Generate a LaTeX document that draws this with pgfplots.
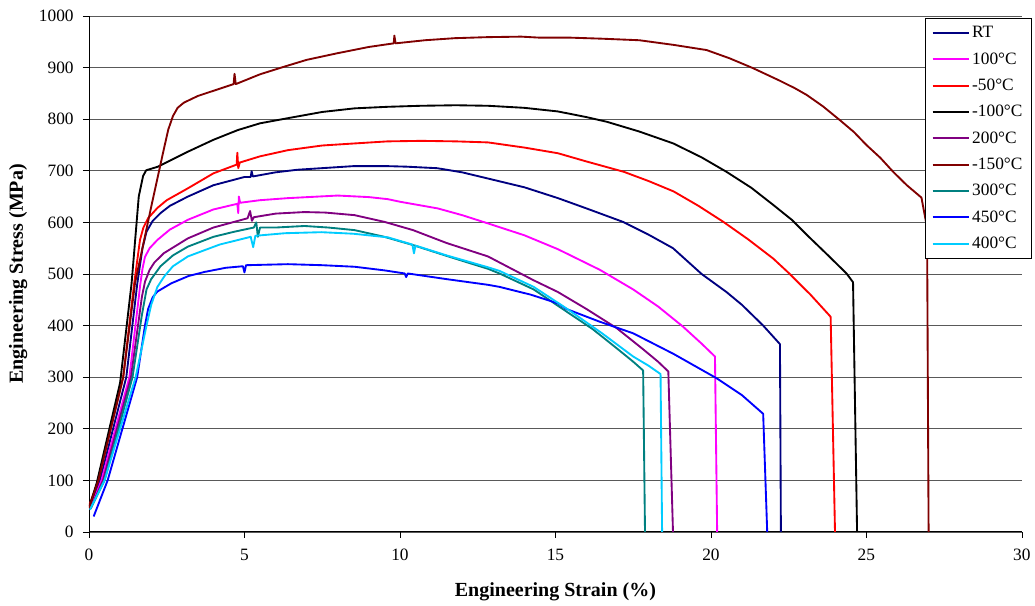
\documentclass[border=0pt]{standalone}
\usepackage{pgfplots}
\pgfplotsset{compat=1.18}
\usepackage{fontspec}
\setmainfont{Liberation Serif}
\definecolor{cRT}{RGB}{0,0,128}
\definecolor{cM}{RGB}{255,0,255}
\definecolor{cR}{RGB}{255,0,0}
\definecolor{cK}{RGB}{0,0,0}
\definecolor{cP}{RGB}{128,0,128}
\definecolor{cDR}{RGB}{128,0,0}
\definecolor{cT}{RGB}{0,128,128}
\definecolor{cB}{RGB}{0,0,255}
\definecolor{cC}{RGB}{0,204,255}
\begin{document}
\begin{tikzpicture}
\begin{axis}[
  scale only axis, width=699.75pt, height=387pt,
  xmin=0, xmax=30, ymin=0, ymax=1000,
  xtick={0,5,...,30}, ytick={0,100,...,1000},
  axis x line*=bottom, axis y line*=left,
  axis line style={-, black, line width=0.7pt},
  ymajorgrids, grid style={black!65, line width=0.6pt},
  tick align=outside, major tick length=4.5pt,
  tick style={black, line width=0.6pt},
  /pgf/number format/assume math mode=true,
  /pgf/number format/1000 sep={},
  tick label style={font=\fontsize{13}{15}\selectfont},
  xticklabel style={yshift=-5pt},
  yticklabel style={xshift=-3.5pt},
  xlabel={Engineering Strain (\%)},
  ylabel={Engineering Stress (MPa)},
  label style={font=\fontsize{15}{17}\selectfont\bfseries},
  xlabel style={at={(axis description cs:0.5,-0.116)}, anchor=center},
  ylabel style={at={(axis description cs:-0.076,0.5)}, anchor=center},
  every axis plot/.append style={line width=1.4pt, line join=round},
  legend style={at={(axis description cs:1.011,0.996)}, anchor=north east,
    draw=black, line width=0.6pt, fill=white, font=\fontsize{13}{15}\selectfont,
    row sep=5.6pt, inner xsep=5pt, inner ysep=4pt},
  legend cell align=left,
  legend image code/.code={\draw[#1, line width=1.4pt] (0pt,0pt) -- (27pt,0pt);},
]
% RT
\addplot[cRT] coordinates {(0.05,50) (0.35,100) (1.2,300) (1.55,480) (1.72,550) (1.85,582) (2.05,603) (2.3,618) (2.6,632) (3.18,650) (4.0,672) (5.0,688) (5.2,688) (5.23,699) (5.27,689) (6.0,697) (6.7,702) (7.47,705) (8.5,709) (9.6,709) (10.2,708) (11.2,705) (12.0,697) (12.83,685) (14.0,668) (15.08,647) (16.0,627) (17.17,601) (18.0,576) (18.78,550) (19.7,500) (20.5,465) (21.0,440) (21.68,400) (22.22,364) (22.25,0)};
\addlegendentry{RT}
% 100C
\addplot[cM] coordinates {(0.05,45) (0.4,100) (1.3,300) (1.65,480) (1.72,510) (1.8,533) (1.95,550) (2.2,566) (2.6,586) (3.18,605) (4.0,625) (4.77,636) (4.8,618) (4.82,650) (4.86,638) (5.5,643) (6.4,647) (8.0,652) (9.0,649) (9.61,645) (10.0,640) (11.22,627) (12.0,614) (12.83,598) (14.0,575) (15.08,548) (16.43,508) (17.5,470) (18.3,437) (19.1,398) (19.7,365) (20.13,340) (20.2,0)};
\addlegendentry{100°C}
% -50C
\addplot[cR] coordinates {(0,50) (0.3,100) (1.1,300) (1.45,480) (1.64,566) (1.75,590) (1.9,608) (2.2,628) (2.5,643) (3.18,666) (4.0,695) (4.75,712) (4.77,735) (4.8,705) (4.85,716) (5.5,728) (6.4,740) (7.5,749) (8.54,753) (9.6,757) (10.69,758) (11.8,757) (12.83,755) (14.0,745) (15.08,734) (16.0,718) (17.2,698) (18.0,680) (18.8,660) (19.6,632) (20.4,601) (21.2,567) (22.0,530) (22.5,502) (23.2,460) (23.85,417) (23.99,0)};
\addlegendentry{-50°C}
% -100C
\addplot[cK] coordinates {(0.03,52) (0.25,95) (1.0,289) (1.37,482) (1.6,650) (1.74,690) (1.84,701) (2.22,708) (3.18,737) (4.0,760) (4.79,779) (5.5,792) (6.4,802) (7.5,814) (8.54,821) (9.6,824) (10.68,826) (11.8,827) (12.83,826) (14.0,822) (15.08,815) (16.0,804) (16.65,795) (17.7,776) (18.79,753) (19.7,726) (20.5,698) (21.3,667) (22.0,634) (22.6,605) (23.08,576) (23.7,540) (24.36,501) (24.57,484) (24.7,0)};
\addlegendentry{-100°C}
% 200C
\addplot[cP] coordinates {(0.05,45) (0.45,100) (1.35,300) (1.7,455) (1.8,485) (1.95,508) (2.1,522) (2.4,540) (3.18,569) (4.0,590) (5.1,608) (5.18,622) (5.24,603) (5.3,610) (6.0,617) (6.93,620) (7.6,619) (8.54,614) (9.5,601) (10.42,585) (11.5,560) (12.83,534) (14.29,488) (15.08,465) (16.0,432) (16.97,395) (17.8,355) (18.3,330) (18.63,311) (18.78,0)};
\addlegendentry{200°C}
% -150C
\addplot[cDR] coordinates {(0,46) (0.3,100) (1.1,300) (1.48,482) (2.0,630) (2.4,740) (2.55,780) (2.7,806) (2.85,822) (3.05,832) (3.5,845) (4.0,855) (4.65,868) (4.68,888) (4.72,868) (5.5,887) (6.29,902) (7.0,915) (8.0,928) (9.0,940) (9.8,947) (9.82,962) (9.86,947) (10.8,953) (11.76,957) (12.8,959) (13.9,960) (14.5,958) (15.5,958) (16.5,956) (17.7,953) (18.8,944) (19.86,934) (20.6,918) (21.35,899) (22.2,875) (22.7,860) (23.08,847) (23.6,825) (24.15,798) (24.6,775) (25.0,750) (25.45,725) (25.86,698) (26.3,672) (26.77,648) (26.95,590) (27.0,0)};
\addlegendentry{-150°C}
% 300C
\addplot[cT] coordinates {(0.05,45) (0.5,100) (1.4,300) (1.7,420) (1.85,470) (2.0,490) (2.3,515) (2.7,536) (3.18,553) (4.0,572) (4.68,582) (5.3,590) (5.38,600) (5.43,572) (5.5,590) (6.0,590) (6.93,593) (7.7,590) (8.54,585) (9.5,572) (10.42,556) (11.5,535) (12.83,510) (13.2,501) (14.3,470) (15.36,427) (16.2,393) (16.97,356) (17.5,330) (17.82,313) (17.88,0)};
\addlegendentry{300°C}
% 450C
\addplot[cB] coordinates {(0.15,30) (0.6,100) (1.55,300) (1.8,400) (1.9,432) (2.05,455) (2.2,466) (2.65,482) (3.2,496) (3.72,504) (4.4,512) (4.95,515) (5.0,503) (5.05,517) (6.4,519) (7.5,517) (8.54,514) (9.5,507) (10.15,501) (10.2,494) (10.25,501) (11.5,490) (12.83,479) (13.2,475) (14.2,460) (15.08,443) (15.36,432) (16.4,408) (17.5,385) (18.8,345) (20.18,298) (21.0,265) (21.68,229) (21.81,0)};
\addlegendentry{450°C}
% 400C
\addplot[cC] coordinates {(0.03,43) (0.5,100) (1.5,300) (1.85,400) (2.0,440) (2.2,475) (2.43,496) (2.7,515) (3.18,534) (4.2,557) (5.2,572) (5.28,552) (5.35,574) (6.3,579) (7.47,581) (8.5,578) (9.61,571) (10.4,557) (10.45,540) (10.5,555) (11.5,536) (12.83,513) (13.2,506) (14.3,475) (15.36,433) (16.5,385) (17.5,340) (18.0,322) (18.38,306) (18.43,0)};
\addlegendentry{400°C}
\coordinate (ll) at (rel axis cs:0,0);
\end{axis}
\path (ll) ++(-66.75pt,-54.75pt) rectangle ++(776.25pt,453.75pt);
\end{tikzpicture}
\end{document}
